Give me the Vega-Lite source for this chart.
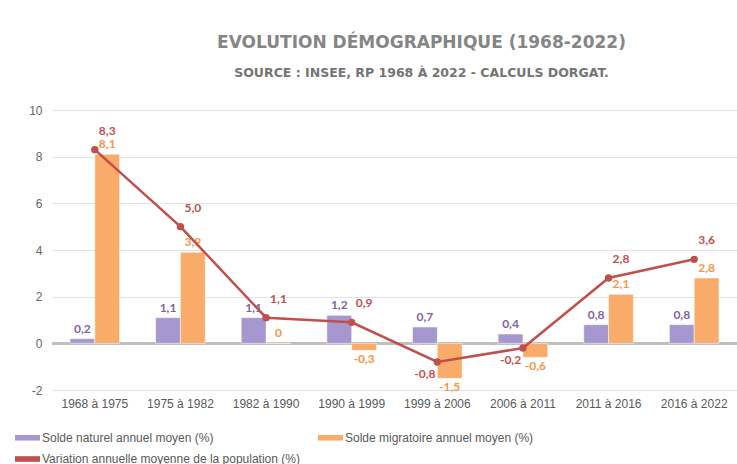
{
  "$schema": "https://vega.github.io/schema/vega-lite/v6.json",
  "width": 685,
  "height": 280,
  "autosize": "none",
  "padding": {"left": 52, "top": 110, "right": 0, "bottom": 74},
  "background": "white",
  "config": {
    "view": {"stroke": null},
    "locale": {"number": {"decimal": ",", "thousands": "\u00a0", "grouping": [3], "currency": ["", "\u00a0€"], "minus": "-"}}
  },
  "title": {
    "text": "EVOLUTION DÉMOGRAPHIQUE (1968-2022)",
    "subtitle": "SOURCE :  INSEE, RP 1968 À 2022 - CALCULS DORGAT.",
    "anchor": "middle",
    "dx": 27,
    "offset": 24,
    "font": "DejaVu Sans",
    "fontSize": 17,
    "fontWeight": "bold",
    "color": "#858585",
    "subtitleFont": "DejaVu Sans",
    "subtitleFontSize": 12.5,
    "subtitleFontWeight": "bold",
    "subtitleColor": "#747474",
    "subtitlePadding": 15
  },
  "data": {
    "values": [
      {"period": "1968 à 1975", "series": "Solde naturel annuel moyen (%)", "v": 0.2},
      {"period": "1975 à 1982", "series": "Solde naturel annuel moyen (%)", "v": 1.1},
      {"period": "1982 à 1990", "series": "Solde naturel annuel moyen (%)", "v": 1.1},
      {"period": "1990 à 1999", "series": "Solde naturel annuel moyen (%)", "v": 1.2},
      {"period": "1999 à 2006", "series": "Solde naturel annuel moyen (%)", "v": 0.7},
      {"period": "2006 à 2011", "series": "Solde naturel annuel moyen (%)", "v": 0.4},
      {"period": "2011 à 2016", "series": "Solde naturel annuel moyen (%)", "v": 0.8},
      {"period": "2016 à 2022", "series": "Solde naturel annuel moyen (%)", "v": 0.8},
      {"period": "1968 à 1975", "series": "Solde migratoire annuel moyen (%)", "v": 8.1},
      {"period": "1975 à 1982", "series": "Solde migratoire annuel moyen (%)", "v": 3.9},
      {"period": "1982 à 1990", "series": "Solde migratoire annuel moyen (%)", "v": 0},
      {"period": "1990 à 1999", "series": "Solde migratoire annuel moyen (%)", "v": -0.3},
      {"period": "1999 à 2006", "series": "Solde migratoire annuel moyen (%)", "v": -1.5},
      {"period": "2006 à 2011", "series": "Solde migratoire annuel moyen (%)", "v": -0.6},
      {"period": "2011 à 2016", "series": "Solde migratoire annuel moyen (%)", "v": 2.1},
      {"period": "2016 à 2022", "series": "Solde migratoire annuel moyen (%)", "v": 2.8},
      {"period": "1968 à 1975", "series": "Variation annuelle moyenne de la population (%)", "v": 8.3},
      {"period": "1975 à 1982", "series": "Variation annuelle moyenne de la population (%)", "v": 5.0},
      {"period": "1982 à 1990", "series": "Variation annuelle moyenne de la population (%)", "v": 1.1},
      {"period": "1990 à 1999", "series": "Variation annuelle moyenne de la population (%)", "v": 0.9},
      {"period": "1999 à 2006", "series": "Variation annuelle moyenne de la population (%)", "v": -0.8},
      {"period": "2006 à 2011", "series": "Variation annuelle moyenne de la population (%)", "v": -0.2},
      {"period": "2011 à 2016", "series": "Variation annuelle moyenne de la population (%)", "v": 2.8},
      {"period": "2016 à 2022", "series": "Variation annuelle moyenne de la population (%)", "v": 3.6}
    ]
  },
  "encoding": {
    "x": {
      "field": "period",
      "type": "nominal",
      "sort": null,
      "scale": {"paddingInner": 0.42, "paddingOuter": 0.21},
      "axis": {
        "title": null,
        "labelAngle": 0,
        "ticks": false,
        "domain": false,
        "labelPadding": 8,
        "labelFont": "Liberation Sans",
        "labelFontSize": 12,
        "labelColor": "#595959"
      }
    },
    "y": {
      "field": "v",
      "type": "quantitative",
      "scale": {"domain": [-2, 10], "nice": false, "zero": false},
      "axis": {
        "title": null,
        "values": [-2, 0, 2, 4, 6, 8, 10],
        "ticks": false,
        "domain": false,
        "labelPadding": 10,
        "gridColor": "#e3e3e3",
        "gridWidth": 1,
        "labelFont": "Liberation Sans",
        "labelFontSize": 12,
        "labelColor": "#666666"
      }
    }
  },
  "layer": [
    {
      "mark": {"type": "rule", "color": "#bfbfbf", "strokeWidth": 2},
      "encoding": {"y": {"datum": 0}, "x": {"value": 0}, "x2": {"value": 685}}
    },
    {
      "transform": [{"filter": "datum.series !== 'Variation annuelle moyenne de la population (%)'"}],
      "mark": {"type": "bar", "strokeWidth": 1, "stroke": "#ffffff", "strokeOpacity": 0.5},
      "encoding": {
        "xOffset": {"field": "series", "type": "nominal", "sort": null, "scale": {"domain": ["Solde naturel annuel moyen (%)", "Solde migratoire annuel moyen (%)"], "paddingInner": 0, "paddingOuter": 0}},
        "color": {
          "field": "series",
          "type": "nominal",
          "scale": {
            "domain": ["Solde naturel annuel moyen (%)", "Solde migratoire annuel moyen (%)", "Variation annuelle moyenne de la population (%)"],
            "range": ["#a797cf", "#f9ab6a", "#c0504d"]
          },
          "legend": {
            "title": null,
            "orient": "none",
            "direction": "horizontal",
            "legendX": -31,
            "legendY": 321,
            "columns": 2,
            "columnPadding": 18,
            "rowPadding": 8.5,
            "padding": 0,
            "symbolType": "M-2,-0.45H2V0.45H-2Z",
            "symbolSize": 156,
            "symbolStrokeWidth": 0,
            "labelOffset": 8,
            "labelLimit": 400,
            "labelFont": "Liberation Sans",
            "labelFontSize": 12,
            "labelColor": "#595959",
            "encode": {
              "symbols": {
                "update": {
                  "shape": {"signal": "datum.value === 'Variation annuelle moyenne de la population (%)' ? 'M-2,-0.2H2V0.2H-2Z M-0.7,0A0.7,0.7 0 1,0 0.7,0A0.7,0.7 0 1,0 -0.7,0Z' : 'M-2,-0.45H2V0.45H-2Z'"},
                  "fill": {"scale": "color", "field": "value"},
                  "opacity": {"value": 1},
                  "strokeWidth": {"value": 0}
                }
              }
            }
          }
        }
      }
    },
    {
      "transform": [{"filter": "datum.series !== 'Variation annuelle moyenne de la population (%)' && datum.v >= 0"}],
      "mark": {"type": "text", "baseline": "bottom", "dy": -3, "font": "Lato", "fontWeight": "bold", "fontSize": 12},
      "encoding": {
        "xOffset": {"field": "series", "type": "nominal"},
        "text": {"condition": {"test": "datum.v === 0", "value": "0"}, "field": "v", "type": "quantitative", "format": ".1f"},
        "color": {"condition": {"test": "datum.series === 'Solde naturel annuel moyen (%)'", "value": "#8064a2"}, "value": "#f79646"}
      }
    },
    {
      "transform": [{"filter": "datum.series !== 'Variation annuelle moyenne de la population (%)' && datum.v < 0"}],
      "mark": {"type": "text", "baseline": "top", "dy": 4, "font": "Lato", "fontWeight": "bold", "fontSize": 12},
      "encoding": {
        "xOffset": {"field": "series", "type": "nominal"},
        "text": {"field": "v", "type": "quantitative", "format": ".1f"},
        "color": {"condition": {"test": "datum.series === 'Solde naturel annuel moyen (%)'", "value": "#8064a2"}, "value": "#f79646"}
      }
    },
    {
      "transform": [{"filter": "datum.series === 'Variation annuelle moyenne de la population (%)'"}],
      "mark": {"type": "line", "strokeWidth": 2.5, "point": {"filled": true, "size": 55}},
      "encoding": {
        "color": {"field": "series", "type": "nominal"}
      }
    },
    {
      "transform": [{"filter": "datum.series === 'Variation annuelle moyenne de la population (%)' && datum.v >= 0"}],
      "mark": {"type": "text", "baseline": "bottom", "dy": -12, "font": "Lato", "fontWeight": "bold", "fontSize": 12, "color": "#c0504d"},
      "encoding": {
        "xOffset": {"datum": "Solde migratoire annuel moyen (%)", "type": "nominal"},
        "text": {"field": "v", "type": "quantitative", "format": ".1f"}
      }
    },
    {
      "transform": [{"filter": "datum.series === 'Variation annuelle moyenne de la population (%)' && datum.v < 0"}],
      "mark": {"type": "text", "baseline": "top", "dy": 7, "font": "Lato", "fontWeight": "bold", "fontSize": 12, "color": "#c0504d"},
      "encoding": {
        "xOffset": {"datum": "Solde naturel annuel moyen (%)", "type": "nominal"},
        "text": {"field": "v", "type": "quantitative", "format": ".1f"}
      }
    }
  ]
}
